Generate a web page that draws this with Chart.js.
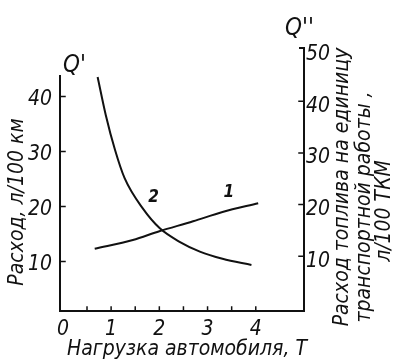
<!DOCTYPE html>
<html>
<head>
<meta charset="utf-8">
<script src="https://cdn.jsdelivr.net/npm/chart.js@4/dist/chart.umd.min.js"></script>
<style>
  html, body { margin: 0; padding: 0; background: #fff; }
  #wrap { width: 393px; height: 360px; }
</style>
</head>
<body>
<div id="wrap"><canvas id="grafico" width="393" height="360"></canvas></div>
<script>
// ===== Dados =====
const cargaCurva1 = [0.66, 1.45, 2.0, 2.7, 3.31, 4.05];      // Нагрузка, Т
const consumoQ1   = [12.3, 13.9, 15.5, 17.3, 19.0, 20.6];    // Q', л/100 км
const cargaCurva2 = [0.72, 0.89, 1.08, 1.28, 1.66, 2.01, 2.42, 2.84, 3.31, 3.91];
const consumoQ2   = [44.7, 37.3, 30.6, 25.1, 19.2, 15.4, 12.8, 10.9, 9.5, 8.3]; // Q'', л/100 ткм
const ticksX      = [0, 1, 2, 3, 4];
const ticksXmenor = [0.5, 1, 1.5, 2, 2.5, 3, 3.5, 4];
const ticksQ1     = [10, 20, 30, 40];
const ticksQ2     = [10, 20, 30, 40, 50];

const FONTE = "'Liberation Sans Narrow', 'DejaVu Sans Condensed', sans-serif";
const PRETO = '#111';

// desenha eixos, marcas e textos
const desenhoExtra = {
  id: 'desenhoExtra',
  afterDraw(chart) {
    const ctx = chart.ctx;
    const x = chart.scales.x, yL = chart.scales.yL, yR = chart.scales.yR;
    const a = chart.chartArea;
    ctx.save();
    ctx.strokeStyle = PRETO;
    ctx.fillStyle = PRETO;
    ctx.lineWidth = 2;
    ctx.lineCap = 'square';

    // eixos
    ctx.beginPath();
    ctx.moveTo(a.left, yL.getPixelForValue(43.7));
    ctx.lineTo(a.left, a.bottom);
    ctx.lineTo(a.right, a.bottom);
    ctx.lineTo(a.right, a.top);
    ctx.lineTo(a.right - 4, a.top);
    ctx.stroke();

    // marcas
    ctx.lineWidth = 1.5;
    ctx.beginPath();
    ticksXmenor.forEach(v => {
      const px = x.getPixelForValue(v);
      ctx.moveTo(px, a.bottom); ctx.lineTo(px, a.bottom - 4);
    });
    ticksQ1.forEach(v => {
      const py = yL.getPixelForValue(v);
      ctx.moveTo(a.left, py); ctx.lineTo(a.left + 5, py);
    });
    ticksQ2.slice(0, -1).forEach(v => {
      const py = yR.getPixelForValue(v);
      ctx.moveTo(a.right, py); ctx.lineTo(a.right - 5, py);
    });
    ctx.stroke();

    // Q' e Q''
    ctx.font = 'italic 24px ' + FONTE;
    ctx.textAlign = 'left';
    ctx.textBaseline = 'alphabetic';
    ctx.fillText("Q'", 63, 72);
    ctx.fillText("Q''", 285, 35);

    // números das curvas
    ctx.font = 'italic bold 17px ' + FONTE;
    ctx.textAlign = 'center';
    ctx.textBaseline = 'middle';
    ctx.fillText('2', x.getPixelForValue(1.88), yL.getPixelForValue(21.7));
    ctx.fillText('1', x.getPixelForValue(3.44), yL.getPixelForValue(22.6));

    // título do eixo X
    ctx.font = 'italic 21px ' + FONTE;
    ctx.textBaseline = 'alphabetic';
    ctx.fillText('Нагрузка автомобиля, Т', 187, 355);

    // títulos verticais
    const vertical = (txt, cx, cy) => {
      ctx.save();
      ctx.translate(cx, cy);
      ctx.rotate(-Math.PI / 2);
      ctx.textAlign = 'center';
      ctx.textBaseline = 'middle';
      ctx.fillText(txt, 0, 0);
      ctx.restore();
    };
    vertical('Расход, л/100 км', 18, 202);
    vertical('Расход топлива на единицу', 343, 187);
    vertical('транспортной работы ,', 365, 207);
    vertical('л/100 ТКМ', 385, 211);

    ctx.restore();
  }
};

const fixarTicks = lista => scale => {
  scale.ticks = lista.map(v => ({ value: v }));
};

new Chart(document.getElementById('grafico'), {
  type: 'line',
  data: {
    datasets: [{
      label: '1',
      data: cargaCurva1.map((c, i) => ({ x: c, y: consumoQ1[i] })),
      yAxisID: 'yL',
      borderColor: PRETO,
      borderWidth: 2,
      pointRadius: 0,
      cubicInterpolationMode: 'monotone'
    }, {
      label: '2',
      data: cargaCurva2.map((c, i) => ({ x: c, y: consumoQ2[i] })),
      yAxisID: 'yR',
      borderColor: PRETO,
      borderWidth: 2,
      pointRadius: 0,
      cubicInterpolationMode: 'monotone'
    }]
  },
  options: {
    responsive: false,
    animation: false,
    devicePixelRatio: 1,
    layout: { padding: { top: 48, left: 0, right: 0, bottom: 0 } },
    plugins: { legend: { display: false }, tooltip: { enabled: false } },
    scales: {
      x: {
        type: 'linear',
        min: -0.06, max: 5.0,
        afterBuildTicks: fixarTicks(ticksX),
        afterFit: s => { s.height = 49; },
        grid: { display: false, drawTicks: false },
        border: { display: false },
        ticks: { color: PRETO, padding: 6, font: { family: FONTE, size: 21, style: 'italic' } }
      },
      yL: {
        position: 'left',
        min: 1.0, max: 48.8,
        afterBuildTicks: fixarTicks(ticksQ1),
        afterFit: s => { s.width = 60; },
        grid: { display: false, drawTicks: false },
        border: { display: false },
        ticks: { color: PRETO, padding: 8, labelOffset: 3, font: { family: FONTE, size: 21, style: 'italic' } }
      },
      yR: {
        position: 'right',
        min: -0.6, max: 50.3,
        afterBuildTicks: fixarTicks(ticksQ2),
        afterFit: s => { s.width = 89; },
        grid: { display: false, drawTicks: false },
        border: { display: false },
        ticks: { color: PRETO, padding: 2, labelOffset: 5, font: { family: FONTE, size: 21, style: 'italic' } }
      }
    }
  },
  plugins: [desenhoExtra]
});
</script>
</body>
</html>
